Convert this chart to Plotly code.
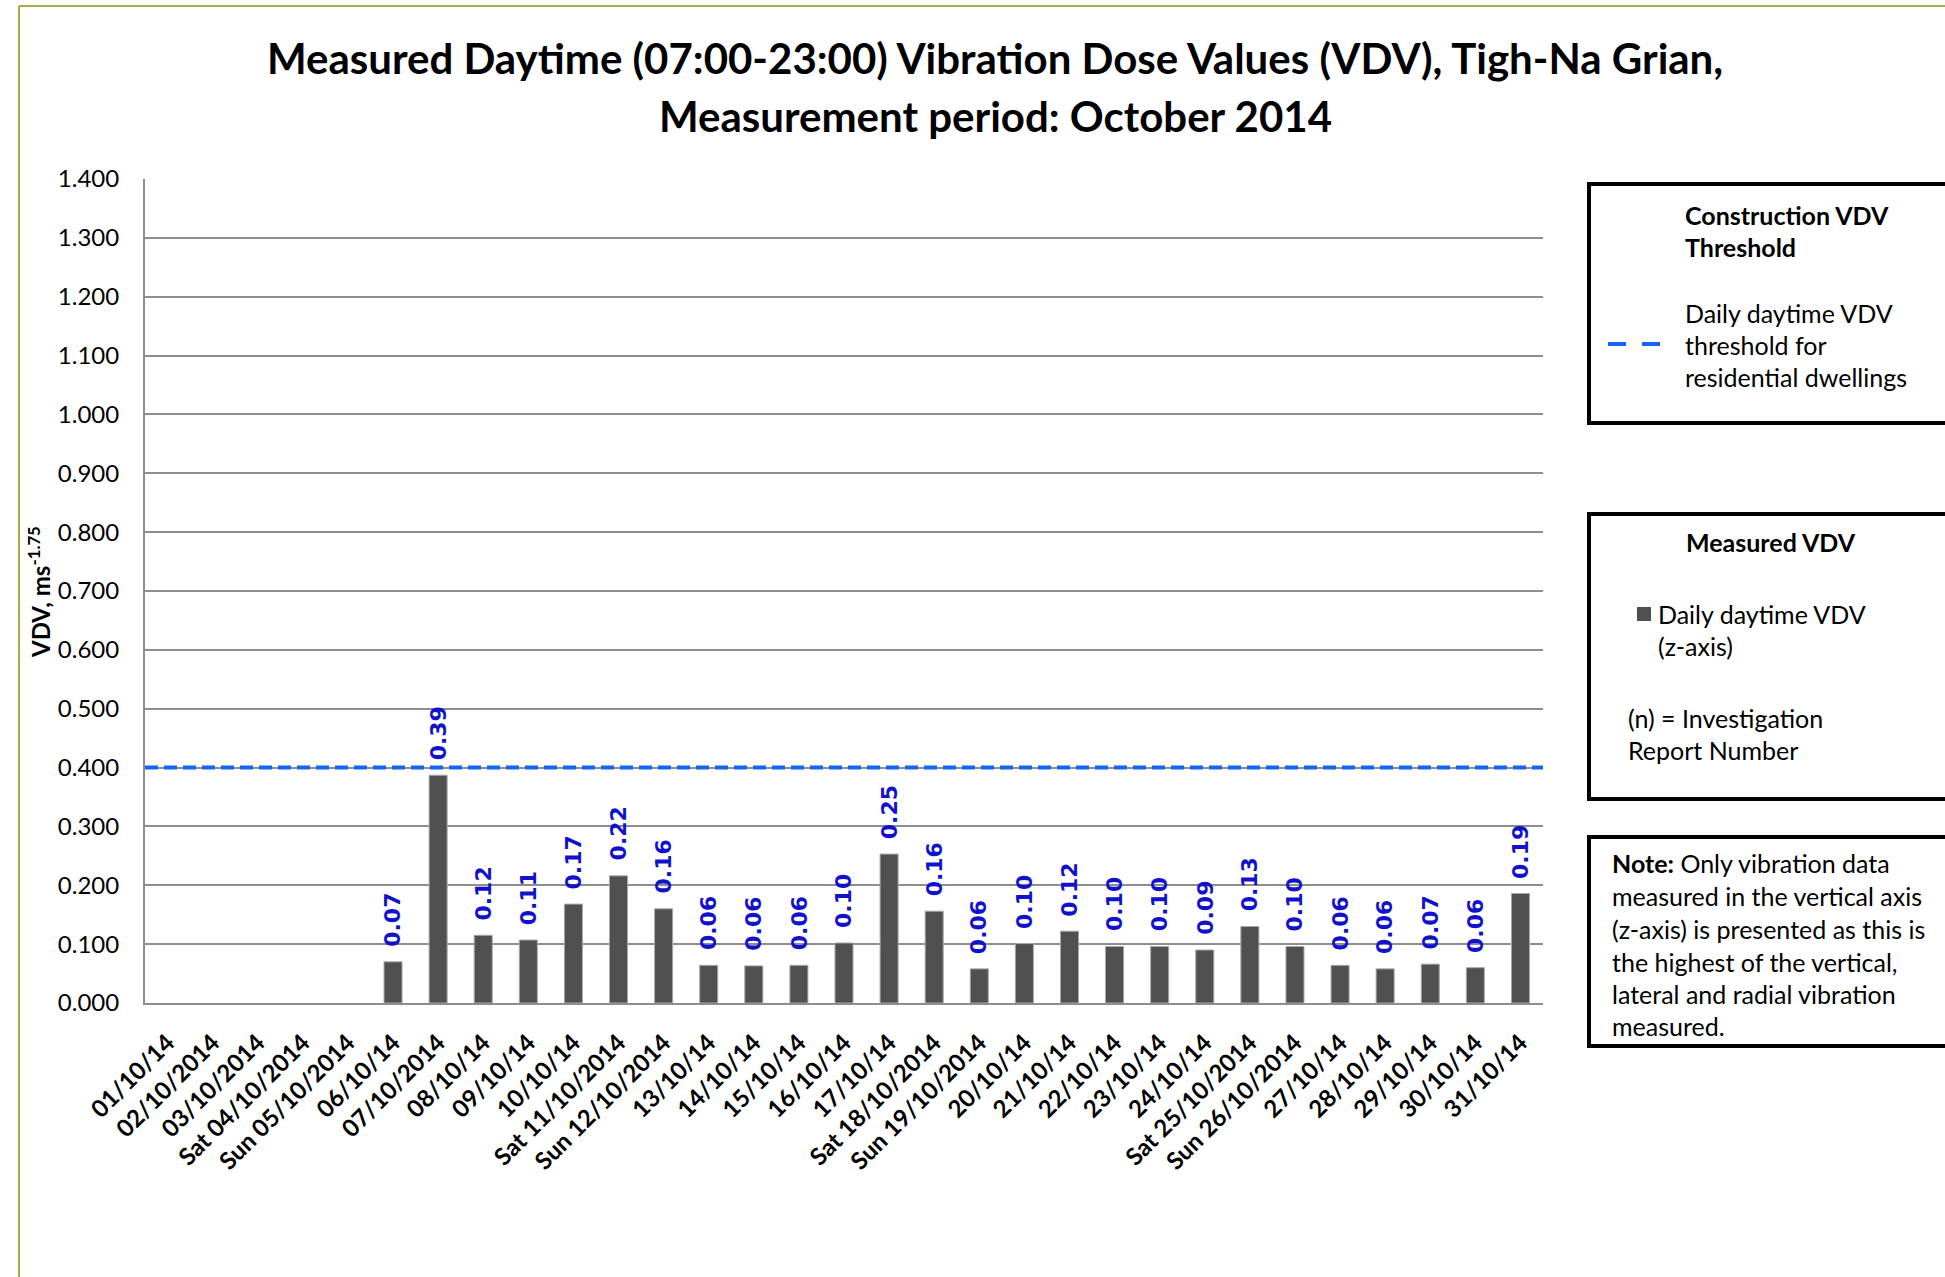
import plotly.graph_objects as go

# ---- data -------------------------------------------------------------
DATES = [
    "01/10/14", "02/10/2014", "03/10/2014", "Sat 04/10/2014", "Sun 05/10/2014",
    "06/10/14", "07/10/2014", "08/10/14", "09/10/14", "10/10/14",
    "Sat 11/10/2014", "Sun 12/10/2014", "13/10/14", "14/10/14", "15/10/14",
    "16/10/14", "17/10/14", "Sat 18/10/2014", "Sun 19/10/2014", "20/10/14",
    "21/10/14", "22/10/14", "23/10/14", "24/10/14", "Sat 25/10/2014",
    "Sun 26/10/2014", "27/10/14", "28/10/14", "29/10/14", "30/10/14", "31/10/14",
]
# daily daytime VDV, z-axis (ms^-1.75); no data for 1-5 October
VDV = [
    None, None, None, None, None,
    0.070, 0.387, 0.115, 0.107, 0.168,
    0.216, 0.160, 0.064, 0.063, 0.064,
    0.102, 0.253, 0.156, 0.058, 0.101,
    0.122, 0.096, 0.096, 0.090, 0.130,
    0.096, 0.064, 0.058, 0.066, 0.060, 0.186,
]
THRESHOLD = 0.4
Y_TICKS = [round(0.1 * i, 1) for i in range(15)]

# ---- page geometry (pixels) -------------------------------------------
W, H = 1945, 1277
L, R, T, B = 145, 1543, 179, 1003


def px(x):
    return (x - L) / (R - L)


def py(y):
    return (B - y) / (B - T)


BAR_COLOR = "#505050"
BLUE = "#1565f5"
LABEL_BLUE = "#1212cc"
GRID = "#8e8e8e"
FRAME = "#abab45"
TXT = "Lato"

fig = go.Figure()
fig.add_bar(
    x=DATES,
    y=VDV,
    marker=dict(color=BAR_COLOR, line=dict(color="#a8a8a8", width=1)),
    showlegend=False,
    hoverinfo="x+y",
)

annotations = []
# value labels above each bar
for d, v in zip(DATES, VDV):
    if v is None:
        continue
    annotations.append(dict(
        x=d, y=v, xref="x", yref="y", text=f"{v:.2f}", textangle=-90,
        showarrow=False, xanchor="center", yanchor="bottom", yshift=13,
        font=dict(family="DejaVu Sans", size=22, color=LABEL_BLUE, weight="bold"),
    ))

# title (two lines)
for text, yc in [
    ("Measured Daytime (07:00-23:00) Vibration Dose Values (VDV), Tigh-Na Grian,", 58),
    ("Measurement period: October 2014", 116),
]:
    annotations.append(dict(
        x=px(995), y=py(yc), xref="paper", yref="paper", text=text, showarrow=False,
        xanchor="center", yanchor="middle",
        font=dict(family=TXT, size=42, color="black", weight="bold"),
    ))

# y-axis title
annotations.append(dict(
    x=px(39), y=py(592), xref="paper", yref="paper",
    text="VDV, ms<sup>-1.75</sup>", textangle=-90, showarrow=False,
    xanchor="center", yanchor="middle",
    font=dict(family=TXT, size=24, color="black", weight="bold"),
))


def note(text, x, y, size=25, bold=False, anchor="left"):
    annotations.append(dict(
        x=px(x), y=py(y), xref="paper", yref="paper", text=text, showarrow=False,
        xanchor=anchor, yanchor="middle", align="left",
        font=dict(family=TXT, size=size, color="black", weight="bold" if bold else "normal"),
    ))


# box 1: threshold key
note("Construction VDV", 1683, 215, bold=True)
note("Threshold", 1683, 247, bold=True)
note("Daily daytime VDV", 1683, 313)
note("threshold for", 1683, 345)
note("residential dwellings", 1683, 377)

# box 2: measured key
note("Measured VDV", 1771, 542, bold=True, anchor="center")
note("Daily daytime VDV", 1656, 614)
note("(z-axis)", 1656, 646)
note("(n) = Investigation", 1626, 718)
note("Report Number", 1626, 750)

# box 3: note
note("<b>Note:</b> Only vibration data", 1610, 863)
note("measured in the vertical axis", 1610, 896)
note("(z-axis) is presented as this is", 1610, 929)
note("the highest of the vertical,", 1610, 962)
note("lateral and radial vibration", 1610, 994)
note("measured.", 1610, 1026)

shapes = [
    # threshold line across the plot
    dict(type="line", xref="paper", yref="y", x0=0, x1=1, y0=THRESHOLD, y1=THRESHOLD,
         line=dict(color=BLUE, width=4, dash="13px,6px"), layer="above"),
    # outer chart frame (top and left edges)
    dict(type="line", xref="paper", yref="paper", x0=px(19), x1=px(1960), y0=py(6), y1=py(6),
         line=dict(color=FRAME, width=2)),
    dict(type="line", xref="paper", yref="paper", x0=px(19), x1=px(19), y0=py(6), y1=py(1290),
         line=dict(color=FRAME, width=2)),
    # key boxes
    dict(type="rect", xref="paper", yref="paper", x0=px(1589), x1=px(1970), y0=py(423), y1=py(184),
         line=dict(color="black", width=4)),
    dict(type="rect", xref="paper", yref="paper", x0=px(1589), x1=px(1970), y0=py(799), y1=py(514),
         line=dict(color="black", width=4)),
    dict(type="rect", xref="paper", yref="paper", x0=px(1589), x1=px(1970), y0=py(1046), y1=py(837),
         line=dict(color="black", width=4)),
    # key symbols
    dict(type="line", xref="paper", yref="paper", x0=px(1608), x1=px(1662), y0=py(344), y1=py(344),
         line=dict(color=BLUE, width=4, dash="18px,16px")),
    dict(type="rect", xref="paper", yref="paper", x0=px(1637), x1=px(1651), y0=py(621), y1=py(607),
         fillcolor=BAR_COLOR, line=dict(width=0)),
]

fig.update_layout(
    width=W, height=H,
    margin=dict(l=L, r=W - R, t=T, b=H - B, autoexpand=False),
    paper_bgcolor="white", plot_bgcolor="white",
    bargap=0.6,
    showlegend=False,
    annotations=annotations,
    shapes=shapes,
    font=dict(family=TXT, color="black"),
)
fig.update_xaxes(
    type="category", categoryorder="array", categoryarray=DATES,
    tickangle=-45, tickfont=dict(family=TXT, size=24, color="black", weight="bold"),
    ticks="outside", ticklen=14, tickcolor="rgba(0,0,0,0)",
    showline=True, linecolor=GRID, linewidth=2, showgrid=False, fixedrange=True,
)
fig.update_yaxes(
    range=[0, 1.4], tickvals=Y_TICKS, tickformat=".3f",
    tickfont=dict(family=TXT, size=24, color="black"),
    ticks="outside", ticklen=19, tickcolor="rgba(0,0,0,0)",
    showline=True, linecolor=GRID, linewidth=2,
    showgrid=True, gridcolor=GRID, gridwidth=2, zeroline=False, fixedrange=True,
)

fig.write_html("out.html")
